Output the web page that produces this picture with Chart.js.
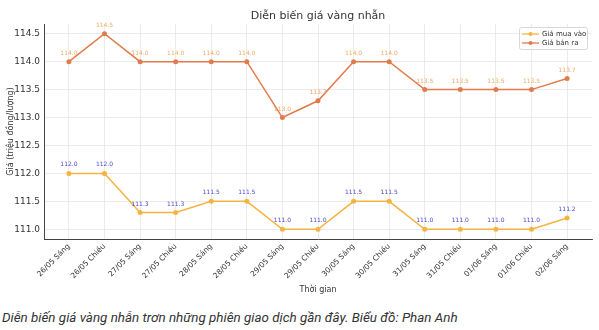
<!DOCTYPE html>
<html><head><meta charset="utf-8">
<script src="https://cdn.jsdelivr.net/npm/chart.js@4/dist/chart.umd.min.js"></script>
<style>
html,body{margin:0;padding:0;background:#fff;}
#wrap{position:absolute;left:0;top:0;width:599px;height:300px;}
#cap{position:absolute;left:2px;top:310px;font:italic 13.4px Roboto,sans-serif;color:#333;white-space:nowrap;}
</style></head><body>
<div id="wrap"><canvas id="c" width="599" height="300"></canvas></div>
<div id="cap">Diễn biến giá vàng nhẫn trơn những phiên giao dịch gần đây. Biểu đồ: Phan Anh</div>
<script>
const categories = ["26/05 Sáng","26/05 Chiều","27/05 Sáng","27/05 Chiều","28/05 Sáng","28/05 Chiều","29/05 Sáng","29/05 Chiều","30/05 Sáng","30/05 Chiều","31/05 Sáng","31/05 Chiều","01/06 Sáng","01/06 Chiều","02/06 Sáng"];
const buyPrices = [112.0,112.0,111.3,111.3,111.5,111.5,111.0,111.0,111.5,111.5,111.0,111.0,111.0,111.0,111.2];
const sellPrices = [114.0,114.5,114.0,114.0,114.0,114.0,113.0,113.3,114.0,114.0,113.5,113.5,113.5,113.5,113.7];
const yTicks = [111.0,111.5,112.0,112.5,113.0,113.5,114.0,114.5];
const seriesNames = ["Giá mua vào","Giá bán ra"];
const titleText = "Diễn biến giá vàng nhẫn";

const buyColor = '#f5b342';
const sellColor = '#e27b4c';
const FONT = "'DejaVu Sans', sans-serif";

const overlay = {
  id:'overlay',
  afterDatasetsDraw(chart){
    const ctx = chart.ctx;
    const ca = chart.chartArea;
    ctx.save();
    ctx.fillStyle = '#333';
    ctx.font = "11px " + FONT;
    ctx.textAlign='center'; ctx.textBaseline='middle';
    ctx.fillText(titleText, (ca.left+ca.right)/2, 16);
    const cfgs = [{i:0, col:'rgba(40,40,200,0.85)'},{i:1, col:'rgba(240,160,80,0.9)'}];
    ctx.font = "6px " + FONT;
    cfgs.forEach(c=>{
      const meta = chart.getDatasetMeta(c.i);
      const vals = chart.data.datasets[c.i].data;
      ctx.fillStyle = c.col;
      meta.data.forEach((p,k)=>{
        ctx.fillText(vals[k].y.toFixed(1), p.x, p.y-8.5);
      });
    });
    const lx=519, ly=27, lw=68, lh=22;
    ctx.fillStyle='rgba(255,255,255,0.9)';
    ctx.strokeStyle='#d8d8d8'; ctx.lineWidth=1;
    ctx.beginPath();
    if (ctx.roundRect) ctx.roundRect(lx+0.5,ly+0.5,lw,lh,2); else ctx.rect(lx+0.5,ly+0.5,lw,lh);
    ctx.fill(); ctx.stroke();
    const cols=[buyColor,sellColor];
    ctx.font = "7px " + FONT;
    ctx.textAlign='left';
    seriesNames.forEach((n,k)=>{
      const y = ly+7+k*9;
      ctx.strokeStyle=cols[k]; ctx.lineWidth=1.3;
      ctx.beginPath(); ctx.moveTo(522,y); ctx.lineTo(539,y); ctx.stroke();
      ctx.fillStyle=cols[k];
      ctx.beginPath(); ctx.arc(530.5,y,2,0,Math.PI*2); ctx.fill();
      ctx.fillStyle='#333';
      ctx.fillText(n, 542, y+0.5);
    });
    ctx.restore();
  }
};

new Chart(document.getElementById('c'), {
  type:'line',
  data:{
    datasets:[
      {label:seriesNames[0], data:buyPrices.map((v,i)=>({x:i,y:v})), borderColor:buyColor, backgroundColor:buyColor,
       borderWidth:1.5, pointRadius:2.5, pointBorderWidth:0, tension:0},
      {label:seriesNames[1], data:sellPrices.map((v,i)=>({x:i,y:v})), borderColor:sellColor, backgroundColor:sellColor,
       borderWidth:1.5, pointRadius:2.5, pointBorderWidth:0, tension:0}
    ]
  },
  options:{
    responsive:false, animation:false, devicePixelRatio:1,
    layout:{padding:{top:24,right:7,left:0,bottom:0}},
    plugins:{legend:{display:false}, title:{display:false}, tooltip:{enabled:false}},
    scales:{
      x:{
        type:'linear', min:-0.7, max:14.7,
        afterBuildTicks(s){ s.ticks = categories.map((c,i)=>({value:i})); },
        afterFit(s){ s.height = 61; },
        ticks:{ autoSkip:false, maxRotation:45, minRotation:45, padding:3, color:'#333',
          font:{family:FONT, size:7.5}, callback:(v)=>categories[v] },
        grid:{color:'#e6e6e6', lineWidth:0.8, drawTicks:false},
        border:{display:true, color:'#444', width:1},
        title:{display:true, text:'Thời gian', color:'#333', font:{family:FONT,size:8}, padding:{top:0,bottom:5}}
      },
      y:{
        min:110.825, max:114.675,
        afterBuildTicks(s){ s.ticks = yTicks.map(v=>({value:v})); },
        afterFit(s){ s.width = 44; },
        ticks:{ padding:4, color:'#333', font:{family:FONT,size:9}, callback:(v)=>Number(v).toFixed(1) },
        grid:{color:'#e6e6e6', lineWidth:0.8, drawTicks:false},
        border:{display:true, color:'#444', width:1},
        title:{display:true, text:'Giá (triệu đồng/lượng)', color:'#333', font:{family:FONT,size:8}, padding:{top:6,bottom:0}}
      }
    }
  },
  plugins:[overlay]
});
</script>
</body></html>
